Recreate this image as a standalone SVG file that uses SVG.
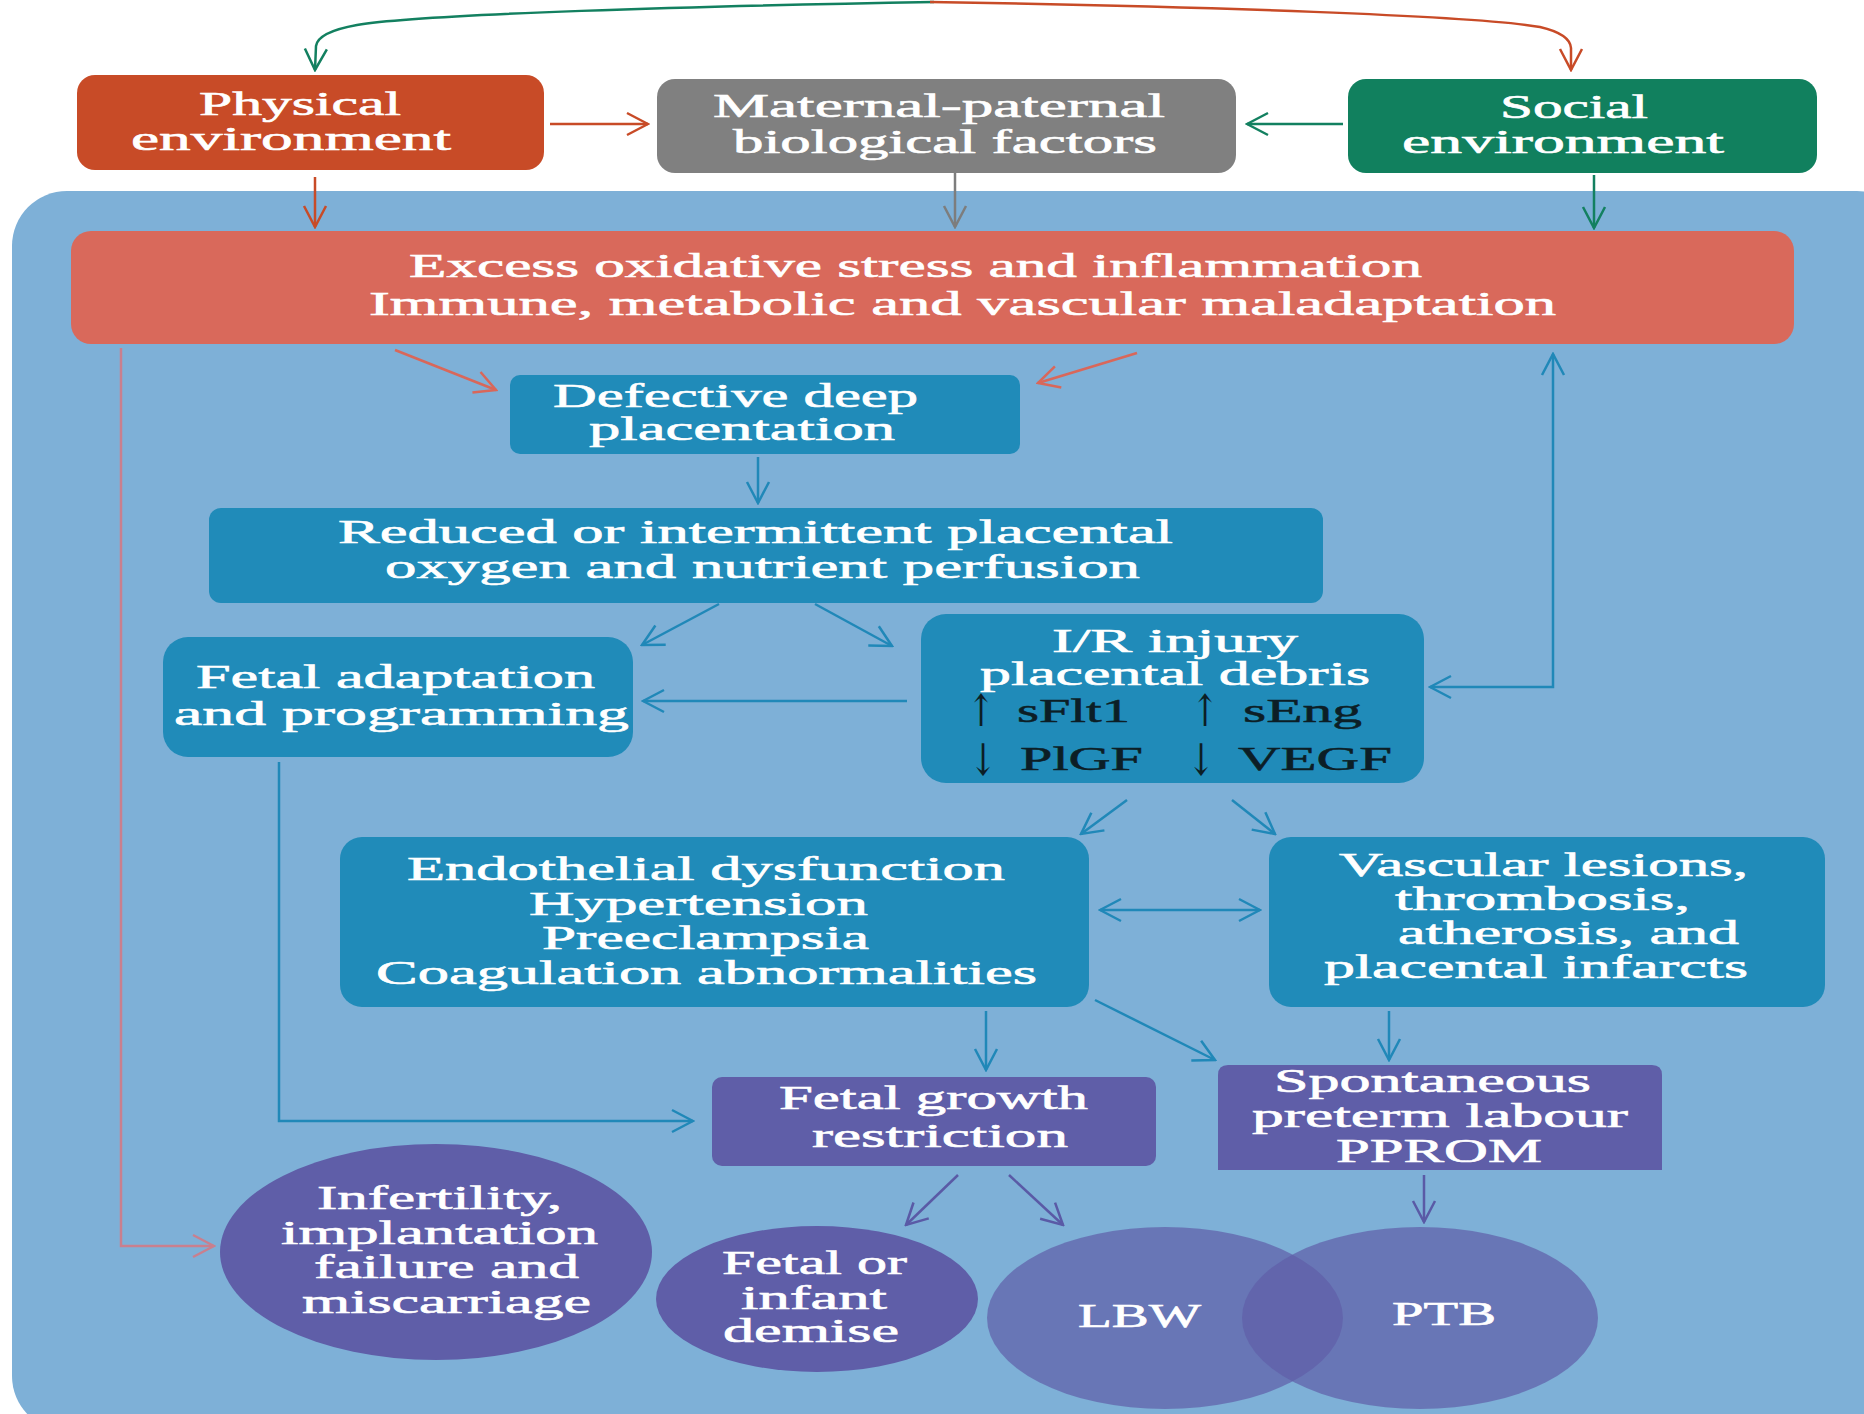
<svg xmlns="http://www.w3.org/2000/svg" width="1864" height="1414" viewBox="0 0 1864 1414">
  <style>
    .t { font-family: "Liberation Serif", "DejaVu Serif", serif; font-size: 33px; fill: #ffffff; stroke: #ffffff; stroke-width: 0.6; text-anchor: middle; }
    .d { font-family: "Liberation Serif", "DejaVu Serif", serif; font-size: 33px; fill: #0c1e26; stroke: #0c1e26; stroke-width: 0.5; }
    .ar { font-family: "DejaVu Serif", "DejaVu Sans", serif; font-size: 44px; fill: #0c1e26; text-anchor: middle; }
    .ln { fill: none; stroke-width: 2.5; }
    .red { stroke: #c84b27; }
    .rd2 { stroke: #d9675a; }
    .pink { stroke: #c97f8e; }
    .grn { stroke: #138060; }
    .gry { stroke: #7d7d7d; }
    .blu { stroke: #2088b8; }
    .pur { stroke: #5a5aa6; }
  </style>
  <defs>
    <marker id="aRed" viewBox="0 0 26 26" markerWidth="26" markerHeight="26" refX="24" refY="13" orient="auto-start-reverse" markerUnits="userSpaceOnUse">
      <path d="M3,2 L24,13 L3,24" fill="none" stroke="#c84b27" stroke-width="2.5"/>
    </marker>
    <marker id="aRd2" viewBox="0 0 26 26" markerWidth="26" markerHeight="26" refX="24" refY="13" orient="auto-start-reverse" markerUnits="userSpaceOnUse">
      <path d="M3,2 L24,13 L3,24" fill="none" stroke="#d9675a" stroke-width="2.5"/>
    </marker>
    <marker id="aPink" viewBox="0 0 26 26" markerWidth="26" markerHeight="26" refX="24" refY="13" orient="auto-start-reverse" markerUnits="userSpaceOnUse">
      <path d="M3,2 L24,13 L3,24" fill="none" stroke="#c97f8e" stroke-width="2.5"/>
    </marker>
    <marker id="aGrn" viewBox="0 0 26 26" markerWidth="26" markerHeight="26" refX="24" refY="13" orient="auto-start-reverse" markerUnits="userSpaceOnUse">
      <path d="M3,2 L24,13 L3,24" fill="none" stroke="#138060" stroke-width="2.5"/>
    </marker>
    <marker id="aGry" viewBox="0 0 26 26" markerWidth="26" markerHeight="26" refX="24" refY="13" orient="auto-start-reverse" markerUnits="userSpaceOnUse">
      <path d="M3,2 L24,13 L3,24" fill="none" stroke="#7d7d7d" stroke-width="2.5"/>
    </marker>
    <marker id="aBlu" viewBox="0 0 26 26" markerWidth="26" markerHeight="26" refX="24" refY="13" orient="auto-start-reverse" markerUnits="userSpaceOnUse">
      <path d="M3,2 L24,13 L3,24" fill="none" stroke="#2088b8" stroke-width="2.5"/>
    </marker>
    <marker id="aPur" viewBox="0 0 26 26" markerWidth="26" markerHeight="26" refX="24" refY="13" orient="auto-start-reverse" markerUnits="userSpaceOnUse">
      <path d="M3,2 L24,13 L3,24" fill="none" stroke="#5a5aa6" stroke-width="2.5"/>
    </marker>
  </defs>

  <rect width="1864" height="1414" fill="#ffffff"/>

  <!-- blue panel holding the placental pathway -->
  <rect id="panel" x="12" y="191" width="1900" height="1240" rx="55" fill="#7eb0d7"/>

  <!-- determinants -->
  <g id="physical">
    <rect x="77" y="75" width="467" height="95" rx="18" fill="#c84b27"/>
    <text class="t" x="300" y="115" textLength="202" lengthAdjust="spacingAndGlyphs">Physical</text>
    <text class="t" x="291" y="150" textLength="320" lengthAdjust="spacingAndGlyphs">environment</text>
  </g>
  <g id="maternal">
    <rect x="657" y="79" width="579" height="94" rx="18" fill="#808080"/>
    <text class="t" x="939" y="117" textLength="452" lengthAdjust="spacingAndGlyphs">Maternal-paternal</text>
    <text class="t" x="945" y="153" textLength="424" lengthAdjust="spacingAndGlyphs">biological factors</text>
  </g>
  <g id="social">
    <rect x="1348" y="79" width="469" height="94" rx="18" fill="#11805e"/>
    <text class="t" x="1574" y="118" textLength="148" lengthAdjust="spacingAndGlyphs">Social</text>
    <text class="t" x="1563" y="153" textLength="322" lengthAdjust="spacingAndGlyphs">environment</text>
  </g>

  <!-- pathway boxes -->
  <g id="stress">
    <rect x="71" y="231" width="1723" height="113" rx="20" fill="#d9695b"/>
    <text class="t" x="915.5" y="277" textLength="1013" lengthAdjust="spacingAndGlyphs">Excess oxidative stress and inflammation</text>
    <text class="t" x="962.5" y="315" textLength="1187" lengthAdjust="spacingAndGlyphs">Immune, metabolic and vascular maladaptation</text>
  </g>
  <g id="defective">
    <rect x="510" y="375" width="510" height="79" rx="10" fill="#208bb9"/>
    <text class="t" x="735.5" y="407" textLength="365" lengthAdjust="spacingAndGlyphs">Defective deep</text>
    <text class="t" x="742" y="440" textLength="306" lengthAdjust="spacingAndGlyphs">placentation</text>
  </g>
  <g id="reduced">
    <rect x="209" y="508" width="1114" height="95" rx="12" fill="#208bb9"/>
    <text class="t" x="755.5" y="543" textLength="835" lengthAdjust="spacingAndGlyphs">Reduced or intermittent placental</text>
    <text class="t" x="762.5" y="578" textLength="755" lengthAdjust="spacingAndGlyphs">oxygen and nutrient perfusion</text>
  </g>
  <g id="adaptation">
    <rect x="163" y="637" width="470" height="120" rx="25" fill="#208bb9"/>
    <text class="t" x="395.5" y="688" textLength="399" lengthAdjust="spacingAndGlyphs">Fetal adaptation</text>
    <text class="t" x="401.5" y="725" textLength="455" lengthAdjust="spacingAndGlyphs">and programming</text>
  </g>
  <g id="injury">
    <rect x="921" y="614" width="503" height="169" rx="25" fill="#208bb9"/>
    <text class="t" x="1175" y="652" textLength="246" lengthAdjust="spacingAndGlyphs">I/R injury</text>
    <text class="t" x="1175" y="685" textLength="390" lengthAdjust="spacingAndGlyphs">placental debris</text>
    <text class="ar" transform="translate(981,726) scale(0.75,1)">↑</text>
    <text class="d" x="1017" y="722" textLength="113" lengthAdjust="spacingAndGlyphs">sFlt1</text>
    <text class="ar" transform="translate(1205,726) scale(0.75,1)">↑</text>
    <text class="d" x="1243" y="722" textLength="119" lengthAdjust="spacingAndGlyphs">sEng</text>
    <text class="ar" transform="translate(983,775) scale(0.75,1)">↓</text>
    <text class="d" x="1020" y="770" textLength="123" lengthAdjust="spacingAndGlyphs">PlGF</text>
    <text class="ar" transform="translate(1201,775) scale(0.75,1)">↓</text>
    <text class="d" x="1238" y="770" textLength="154" lengthAdjust="spacingAndGlyphs">VEGF</text>
  </g>
  <g id="endothelial">
    <rect x="340" y="837" width="749" height="170" rx="22" fill="#208bb9"/>
    <text class="t" x="706" y="880" textLength="598" lengthAdjust="spacingAndGlyphs">Endothelial dysfunction</text>
    <text class="t" x="698.5" y="915" textLength="339" lengthAdjust="spacingAndGlyphs">Hypertension</text>
    <text class="t" x="705.5" y="949" textLength="327" lengthAdjust="spacingAndGlyphs">Preeclampsia</text>
    <text class="t" x="706.5" y="984" textLength="661" lengthAdjust="spacingAndGlyphs">Coagulation abnormalities</text>
  </g>
  <g id="vascular">
    <rect x="1269" y="837" width="556" height="170" rx="22" fill="#208bb9"/>
    <text class="t" x="1543.5" y="876" textLength="409" lengthAdjust="spacingAndGlyphs">Vascular lesions,</text>
    <text class="t" x="1542.5" y="910" textLength="295" lengthAdjust="spacingAndGlyphs">thrombosis,</text>
    <text class="t" x="1568.5" y="944" textLength="341" lengthAdjust="spacingAndGlyphs">atherosis, and</text>
    <text class="t" x="1536" y="978" textLength="424" lengthAdjust="spacingAndGlyphs">placental infarcts</text>
  </g>
  <g id="fgr">
    <rect x="712" y="1077" width="444" height="89" rx="10" fill="#5f5ea8"/>
    <text class="t" x="933.5" y="1109" textLength="309" lengthAdjust="spacingAndGlyphs">Fetal growth</text>
    <text class="t" x="940" y="1147" textLength="256" lengthAdjust="spacingAndGlyphs">restriction</text>
  </g>
  <g id="spontaneous">
    <path d="M1228,1065 H1652 Q1662,1065 1662,1075 V1170 H1218 V1075 Q1218,1065 1228,1065 Z" fill="#5f5ea8"/>
    <text class="t" x="1432.5" y="1092" textLength="317" lengthAdjust="spacingAndGlyphs">Spontaneous</text>
    <text class="t" x="1440" y="1127" textLength="376" lengthAdjust="spacingAndGlyphs">preterm labour</text>
    <text class="t" x="1439" y="1162" textLength="206" lengthAdjust="spacingAndGlyphs">PPROM</text>
  </g>

  <!-- outcomes -->
  <g id="infertility">
    <ellipse cx="436" cy="1252" rx="216" ry="108" fill="#5f5ea8"/>
    <text class="t" x="439.5" y="1209" textLength="245" lengthAdjust="spacingAndGlyphs">Infertility,</text>
    <text class="t" x="439.5" y="1244" textLength="317" lengthAdjust="spacingAndGlyphs">implantation</text>
    <text class="t" x="446.5" y="1278" textLength="265" lengthAdjust="spacingAndGlyphs">failure and</text>
    <text class="t" x="446.5" y="1313" textLength="289" lengthAdjust="spacingAndGlyphs">miscarriage</text>
  </g>
  <g id="demise">
    <ellipse cx="817" cy="1299" rx="161" ry="73" fill="#5f5ea8"/>
    <text class="t" x="814.5" y="1274" textLength="185" lengthAdjust="spacingAndGlyphs">Fetal or</text>
    <text class="t" x="814" y="1309" textLength="146" lengthAdjust="spacingAndGlyphs">infant</text>
    <text class="t" x="811" y="1342" textLength="176" lengthAdjust="spacingAndGlyphs">demise</text>
  </g>
  <g id="lbw">
    <ellipse cx="1165" cy="1318" rx="178" ry="91" fill="#5f5ea8" fill-opacity="0.7"/>
    <text class="t" x="1139.5" y="1327" textLength="123" lengthAdjust="spacingAndGlyphs">LBW</text>
  </g>
  <g id="ptb">
    <ellipse cx="1420" cy="1318" rx="178" ry="91" fill="#5f5ea8" fill-opacity="0.7"/>
    <text class="t" x="1444" y="1325" textLength="104" lengthAdjust="spacingAndGlyphs">PTB</text>
  </g>

  <!-- connectors -->
  <g id="connectors">
    <path class="ln grn" d="M934,2 C700,6 420,14 357,25 Q318,32 316,46 L315,70" marker-end="url(#aGrn)"/>
    <path class="ln red" d="M930,2 C1200,6 1480,16 1540,27 Q1570,34 1571,48 L1571,70" marker-end="url(#aRed)"/>
    <path class="ln red" d="M550,124 L648,124" marker-end="url(#aRed)"/>
    <path class="ln grn" d="M1343,124 L1247,124" marker-end="url(#aGrn)"/>
    <path class="ln red" d="M315,177 L315,227" marker-end="url(#aRed)"/>
    <path class="ln gry" d="M955,173 L955,227" stroke-width="3" marker-end="url(#aGry)"/>
    <path class="ln grn" d="M1594,175 L1594,228" stroke-width="4.5" marker-end="url(#aGrn)"/>

    <path class="ln rd2" d="M395,350 L496,390" marker-end="url(#aRd2)"/>
    <path class="ln rd2" d="M1137,353 L1038,383" marker-end="url(#aRd2)"/>
    <path class="ln pink" d="M121,348 L121,1246 L214,1246" stroke-width="3" marker-end="url(#aPink)"/>

    <path class="ln blu" d="M758,457 L758,503" marker-end="url(#aBlu)"/>
    <path class="ln blu" d="M719,604 L642,645" marker-end="url(#aBlu)"/>
    <path class="ln blu" d="M815,604 L892,646" marker-end="url(#aBlu)"/>
    <path class="ln blu" d="M907,701 L643,701" marker-end="url(#aBlu)"/>
    <path class="ln blu" d="M1430,687 L1553,687 L1553,354" marker-start="url(#aBlu)" marker-end="url(#aBlu)"/>
    <path class="ln blu" d="M279,762 L279,1121 L693,1121" marker-end="url(#aBlu)"/>
    <path class="ln blu" d="M1127,800 L1081,834" marker-end="url(#aBlu)"/>
    <path class="ln blu" d="M1232,800 L1275,834" marker-end="url(#aBlu)"/>
    <path class="ln blu" d="M1100,910 L1260,910" marker-start="url(#aBlu)" marker-end="url(#aBlu)"/>
    <path class="ln blu" d="M986,1011 L986,1070" stroke-width="3.5" marker-end="url(#aBlu)"/>
    <path class="ln blu" d="M1095,1000 L1215,1060" marker-end="url(#aBlu)"/>
    <path class="ln blu" d="M1389,1011 L1389,1060" stroke-width="4.5" marker-end="url(#aBlu)"/>

    <path class="ln pur" d="M958,1175 L906,1225" marker-end="url(#aPur)"/>
    <path class="ln pur" d="M1009,1175 L1063,1225" marker-end="url(#aPur)"/>
    <path class="ln pur" d="M1424,1175 L1424,1222" stroke-width="3" marker-end="url(#aPur)"/>
  </g>
</svg>
